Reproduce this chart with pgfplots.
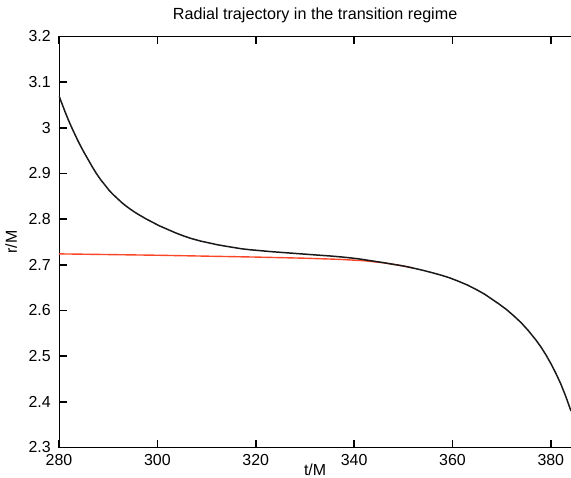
\documentclass[border=0pt]{standalone}
\usepackage{pgfplots}
\pgfplotsset{compat=1.18}
\usepackage{fontspec}
\setmainfont{Liberation Sans}
\definecolor{curveblack}{RGB}{25,25,25}
\definecolor{curvered}{RGB}{250,70,40}
\begin{document}
\begin{tikzpicture}
\begin{axis}[
  at={(0,0)}, anchor=south west,
  scale only axis,
  width=270.5bp, height=205.5bp,
  xmin=280, xmax=390,
  ymin=2.3, ymax=3.2,
  xtick={280,300,...,380},
  ytick={2.3,2.4,...,3.2},
  tick pos=both,
  tick align=inside,
  major tick length=4bp,
  major tick style={draw=black, line width=0.8pt},
  xticklabel style={/pgf/number format/fixed, /pgf/number format/assume math mode=true},
  yticklabel style={/pgf/number format/fixed, /pgf/number format/precision=1, /pgf/number format/assume math mode=true, xshift=-0.6bp},
  tick label style={font=\fontsize{8}{9.5}\selectfont},
  title={Radial trajectory in the transition regime},
  title style={font=\fontsize{8.1}{9.5}\selectfont, yshift=-2.5bp, xshift=-7.2bp},
  xlabel={t/M},
  ylabel={r/M},
  label style={font=\fontsize{8}{9.5}\selectfont},
  xlabel style={yshift=8bp, xshift=-7.2bp},
  ylabel style={yshift=-1bp},
]
\addplot[curvered, line width=0.7pt] coordinates {
(280,2.724) (290,2.7225) (300,2.721) (310,2.719) (320,2.717) (330,2.7145) (337,2.712) (342,2.709) (346,2.7045) (350,2.6975) (352,2.693)
};
\addplot[curveblack, line width=0.75pt] coordinates {
(280,3.070) (280.6,3.053) (281.2,3.036) (281.8,3.020) (282.4,3.005) (283.0,2.991) (283.7,2.975) (284.4,2.960) (285.1,2.946) (286.0,2.929) (286.8,2.914) (287.6,2.900) (288.5,2.886) (289.4,2.874) (290.2,2.863) (291.0,2.854) (291.9,2.845) (292.8,2.836) (293.6,2.829) (294.5,2.822) (295.3,2.816) (296.2,2.810) (297,2.805) (297.8,2.800) (298.7,2.795) (300.3,2.786) (302,2.778) (303.7,2.770) (305.4,2.763) (307.1,2.757) (308.8,2.752) (310.5,2.748) (312.2,2.744) (313.8,2.741) (315.5,2.738) (317.2,2.735) (318.9,2.733) (321,2.731) (323,2.729) (325.5,2.727) (328,2.725) (330.5,2.723) (333,2.721) (335,2.7195) (337.2,2.7175) (339,2.7155) (341,2.713) (342.5,2.7105) (344,2.708) (345.8,2.705) (347.5,2.702) (349.2,2.699) (350.7,2.696) (352.4,2.692) (354,2.688) (355.8,2.683) (357.5,2.678) (359.3,2.672) (361,2.665) (363,2.656) (365,2.645) (366.5,2.636) (368,2.625) (369.5,2.614) (371,2.602) (372.5,2.588) (374,2.573) (375.5,2.555) (377,2.535) (378,2.520) (379,2.503) (380,2.484) (381,2.463) (382,2.440) (383,2.413) (384.1,2.380)
};
\end{axis}
\pgfresetboundingbox
\path (-29.5bp,-15.25bp) rectangle (256bp,223.75bp);
\end{tikzpicture}
\end{document}
